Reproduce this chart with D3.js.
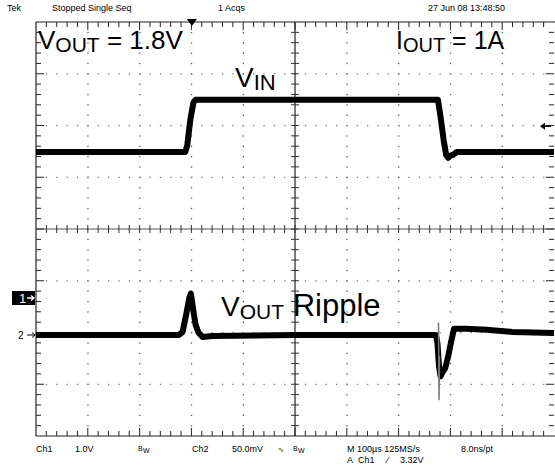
<!DOCTYPE html>
<html><head><meta charset="utf-8">
<script src="https://cdn.jsdelivr.net/npm/d3@7"></script>
<style>
html,body{margin:0;padding:0;background:#fff;}
text{font-family:"Liberation Sans",Arial,sans-serif;fill:#000;}
</style></head>
<body>
<svg id="c" width="555" height="468"></svg>
<script>
// ---- data ----
// Ch1: V_IN (volts) vs time (µs)
const vinTime  = [0, 288, 292, 298, 304, 308, 776, 781, 787, 792, 796, 800, 806, 812, 1000];
const vinVolts = [2.82, 2.82, 2.95, 3.45, 3.78, 3.83, 3.83, 3.50, 3.05, 2.76, 2.71, 2.75, 2.77, 2.82, 2.82];
// Ch2: V_OUT ripple (mV) vs time (µs)
const ripTime = [0, 120, 200, 276, 283, 290, 296, 299, 303, 308, 314, 322, 340, 500, 650, 772, 775, 778, 781, 785, 790, 796, 802, 807, 830, 870, 920, 1000];
const ripMv   = [0, 0, 0, 0, 3, 20, 36, 40, 26, 10, 2, -2, -1, 0, 0, 0, -8, -30, -40, -36, -32, -20, -5, 6, 6, 5, 3, 2];
// glitch seen in the ripple trace (gray)
const glitchTime = [777, 778, 779];
const glitchMv   = [12, -63, -20];
// graticule
const hDivs = 10, vDivs = 8;
const chScale = ["1.0V", "50.0mV"];
const headerTexts = ["Tek", "Stopped  Single Seq", "1 Acqs", "27 Jun 08 13:48:50"];
const trigLevel = 3.32;
const trigTime = 301;

// ---- drawing ----
const svg = d3.select("#c");
const L = 36, R = 554, T = 22, B = 436;
const gx = d3.scaleLinear([0, hDivs], [L, R]);
const gy = d3.scaleLinear([0, vDivs], [T, B]);
const x = d3.scaleLinear([0, 1000], [L, R]);
const y1 = d3.scaleLinear([0, 1], [298, 298 - (B - T) / vDivs]);
const y2 = d3.scaleLinear([0, 50], [335, 335 - (B - T) / vDivs]);

const grid = svg.append("g");
// dotted grid
for (let i = 1; i < hDivs; i++) {
  if (i === hDivs / 2) continue;
  for (let k = 1; k < vDivs * 5; k++) {
    grid.append("rect").attr("x", gx(i) - 0.5).attr("y", gy(k / 5) - 0.5).attr("width", 1.3).attr("height", 1.3).attr("fill", "#555");
  }
}
for (let j = 1; j < vDivs; j++) {
  if (j === vDivs / 2) continue;
  for (let k = 1; k < hDivs * 5; k++) {
    grid.append("rect").attr("x", gx(k / 5) - 0.5).attr("y", gy(j) - 0.5).attr("width", 1.3).attr("height", 1.3).attr("fill", "#777");
  }
}
// border
grid.append("line").attr("x1", L).attr("x2", R + 2).attr("y1", T).attr("y2", T).attr("stroke", "#222").attr("stroke-width", 1.2);
grid.append("line").attr("x1", L).attr("x2", R + 2).attr("y1", B).attr("y2", B).attr("stroke", "#222").attr("stroke-width", 1.2);
grid.append("line").attr("x1", L).attr("x2", L).attr("y1", T).attr("y2", B).attr("stroke", "#222").attr("stroke-width", 1.2);
// center lines
grid.append("line").attr("x1", gx(5)).attr("x2", gx(5)).attr("y1", T).attr("y2", B).attr("stroke", "#222").attr("stroke-width", 1.2);
grid.append("line").attr("x1", L).attr("x2", R + 2).attr("y1", gy(4)).attr("y2", gy(4)).attr("stroke", "#555").attr("stroke-width", 1.2);
// ticks
for (let k = 1; k < hDivs * 5; k++) {
  const xx = gx(k / 5), major = k % 5 === 0;
  grid.append("line").attr("x1", xx).attr("x2", xx).attr("y1", T).attr("y2", T + (major ? 8 : 5)).attr("stroke", "#222");
  grid.append("line").attr("x1", xx).attr("x2", xx).attr("y1", B).attr("y2", B - (major ? 8 : 5)).attr("stroke", "#222");
  grid.append("line").attr("x1", xx).attr("x2", xx).attr("y1", gy(4) - 4).attr("y2", gy(4) + 4).attr("stroke", "#333");
}
for (let k = 1; k < vDivs * 5; k++) {
  const yy = gy(k / 5), major = k % 5 === 0;
  grid.append("line").attr("x1", L).attr("x2", L + (major ? 8 : 5)).attr("y1", yy).attr("y2", yy).attr("stroke", "#222");
  grid.append("line").attr("x1", R).attr("x2", R - (major ? 8 : 5)).attr("y1", yy).attr("y2", yy).attr("stroke", "#222");
  grid.append("line").attr("x1", gx(5) - 4).attr("x2", gx(5) + 4).attr("y1", yy).attr("y2", yy).attr("stroke", "#333");
}

// traces
const line1 = d3.line().x((d, i) => x(vinTime[i])).y(d => y1(d));
svg.append("path").attr("d", line1(vinVolts)).attr("fill", "none").attr("stroke", "#000").attr("stroke-width", 6).attr("stroke-linejoin", "round");
const line2 = d3.line().x((d, i) => x(ripTime[i])).y(d => y2(d));
svg.append("path").attr("d", line2(ripMv)).attr("fill", "none").attr("stroke", "#000").attr("stroke-width", 6).attr("stroke-linejoin", "round");
const line3 = d3.line().x((d, i) => x(glitchTime[i])).y(d => y2(d));
svg.append("path").attr("d", line3(glitchMv)).attr("fill", "none").attr("stroke", "#777").attr("stroke-width", 1.5);

// markers
svg.append("rect").attr("x", 12).attr("y", y1(0) - 7).attr("width", 23).attr("height", 14).attr("fill", "#000");
svg.append("text").attr("x", 19).attr("y", y1(0) + 5).attr("font-size", 13).style("fill", "#fff").text("1");
svg.append("path").attr("d", `M27,${y1(0)} L34,${y1(0)} M31,${y1(0) - 2.5} L34,${y1(0)} L31,${y1(0) + 2.5}`).attr("stroke", "#fff").attr("stroke-width", 1.3).attr("fill", "none");
svg.append("text").attr("x", 18).attr("y", y2(0) + 4).attr("font-size", 10).text("2");
svg.append("path").attr("d", `M27,${y2(0)} L35,${y2(0)} M32,${y2(0) - 2.5} L35,${y2(0)} L32,${y2(0) + 2.5}`).attr("stroke", "#000").attr("fill", "none");
// trigger level arrow (right)
const ty = y1(trigLevel);
svg.append("path").attr("d", `M541,${ty} L551,${ty}`).attr("stroke", "#000").attr("stroke-width", 1.5);
svg.append("path").attr("d", `M540,${ty} L545,${ty - 3.5} L545,${ty + 3.5} Z`).attr("fill", "#000");
// trigger time marker (top)
const tx = x(trigTime);
svg.append("path").attr("d", `M${tx - 5},${T - 3} L${tx + 5},${T - 3} L${tx},${T + 4} Z`).attr("fill", "#000");

// header
const hx = [7, 52, 218, 428];
headerTexts.forEach((t, i) => svg.append("text").attr("x", hx[i]).attr("y", 11).attr("font-size", 9).text(t));

// annotations
function label(xp, yp, main, sub, rest, size, subSize, restSize) {
  const t = svg.append("text").attr("x", xp).attr("y", yp).attr("font-size", size);
  t.append("tspan").text(main);
  t.append("tspan").attr("font-size", subSize).attr("dy", 3).text(sub);
  if (rest) t.append("tspan").attr("font-size", restSize).attr("dy", -3).text(rest);
}
label(38, 49, "V", "OUT", " = 1.8V", 26, 21, 26);
label(396, 49, "I", "OUT", " = 1A", 25, 20, 25);
label(235, 87, "V", "IN", "", 28, 22, 28);
label(221, 316, "V", "OUT", " Ripple", 28, 21, 31);

// footer
const f = 9;
svg.append("text").attr("x", 36).attr("y", 452).attr("font-size", f).text("Ch1");
svg.append("text").attr("x", 75).attr("y", 452).attr("font-size", f).text(chScale[0]);
svg.append("text").attr("x", 138).attr("y", 451).attr("font-size", 7).text("B");
svg.append("text").attr("x", 143).attr("y", 453).attr("font-size", 7).text("W");
svg.append("text").attr("x", 192).attr("y", 452).attr("font-size", f).text("Ch2");
svg.append("text").attr("x", 232).attr("y", 452).attr("font-size", f).text(chScale[1]);
svg.append("text").attr("x", 278).attr("y", 452).attr("font-size", 7).text("\u223F");
svg.append("text").attr("x", 293).attr("y", 451).attr("font-size", 7).text("B");
svg.append("text").attr("x", 298).attr("y", 453).attr("font-size", 7).text("W");
svg.append("text").attr("x", 347).attr("y", 452).attr("font-size", f).text("M 100\u00B5s 125MS/s");
svg.append("text").attr("x", 461).attr("y", 452).attr("font-size", f).text("8.0ns/pt");
svg.append("text").attr("x", 347).attr("y", 463).attr("font-size", f).text("A");
svg.append("text").attr("x", 358).attr("y", 463).attr("font-size", f).text("Ch1");
svg.append("text").attr("x", 387).attr("y", 463).attr("font-size", f).text("\u2215");
svg.append("text").attr("x", 400).attr("y", 463).attr("font-size", f).text("3.32V");
</script>
</body></html>
